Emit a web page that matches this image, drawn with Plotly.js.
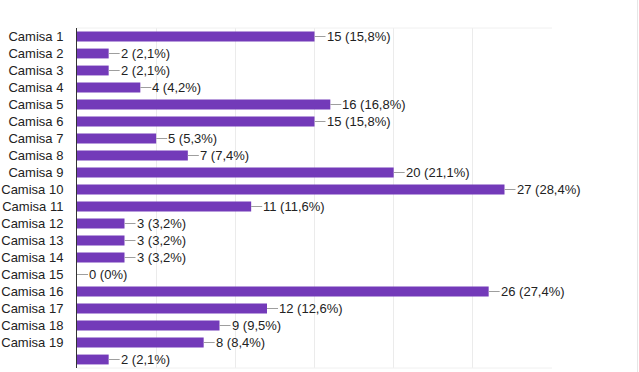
<!DOCTYPE html>
<html>
<head>
<meta charset="utf-8">
<script src="https://cdn.plot.ly/plotly-3.0.1.min.js"></script>
<style>html,body{margin:0;padding:0;background:#fff;}#chart{width:639px;height:372px;}</style>
</head>
<body>
<div id="chart"></div>
<script>
const categories = ["Camisa 1","Camisa 2","Camisa 3","Camisa 4","Camisa 5","Camisa 6","Camisa 7","Camisa 8","Camisa 9","Camisa 10","Camisa 11","Camisa 12","Camisa 13","Camisa 14","Camisa 15","Camisa 16","Camisa 17","Camisa 18","Camisa 19",""];
const values = [15,2,2,4,16,15,5,7,20,27,11,3,3,3,0,26,12,9,8,2];
const percentLabels = ["15,8%","2,1%","2,1%","4,2%","16,8%","15,8%","5,3%","7,4%","21,1%","28,4%","11,6%","3,2%","3,2%","3,2%","0%","27,4%","12,6%","9,5%","8,4%","2,1%"];
const xTicks = [0,5,10,15,20,25,30];

const idx = categories.map((c,i)=>i);

const trace = {
  type: 'bar',
  orientation: 'h',
  x: values,
  y: idx,
  marker: {color: '#733ab9'},
  hoverinfo: 'none'
};

const annotations = values.map((v,i)=>({
  x: v, y: i, xref: 'x', yref: 'y',
  text: v + ' (' + percentLabels[i] + ')',
  showarrow: true, arrowhead: 0, arrowwidth: 1, arrowcolor: '#9e9e9e',
  ax: 11, ay: 0, xanchor: 'left', yanchor: 'middle',
  borderpad: 0,
  font: {family: 'Arial, "Liberation Sans", sans-serif', size: 13, color: '#222222'}
}));

const layout = {
  width: 639, height: 372,
  margin: {l: 77, r: 87, t: 28, b: 4},
  paper_bgcolor: '#ffffff', plot_bgcolor: '#ffffff',
  showlegend: false,
  bargap: 0.42,
  font: {family: 'Arial, "Liberation Sans", sans-serif', size: 13, color: '#222222'},
  xaxis: {
    range: [0, 30], tickvals: xTicks, showticklabels: false,
    showgrid: true, gridcolor: '#ebebeb', gridwidth: 1,
    zeroline: false, showline: false, fixedrange: true
  },
  yaxis: {
    range: [19.5, -0.5], tickvals: idx, ticktext: categories,
    showgrid: false, zeroline: false,
    showline: true, linecolor: '#333333', linewidth: 1,
    ticks: '', ticklabelstandoff: 10,
    tickfont: {family: 'Arial, "Liberation Sans", sans-serif', size: 13, color: '#222222'},
    fixedrange: true
  },
  annotations: annotations,
  shapes: [
    {type: 'line', xref: 'paper', yref: 'paper', x0: 0, x1: 1, y0: 1, y1: 1, line: {color: '#f0f0f0', width: 1}},
    {type: 'line', xref: 'paper', yref: 'paper', x0: 0, x1: 1, y0: 0, y1: 0, line: {color: '#f0f0f0', width: 1}},
    {type: 'line', xref: 'paper', yref: 'paper', x0: 1.18, x1: 1.18, y0: -0.02, y1: 1.09, line: {color: '#e6e6e6', width: 1}}
  ]
};

Plotly.newPlot('chart', [trace], layout, {displayModeBar: false, staticPlot: true});
</script>
</body>
</html>
